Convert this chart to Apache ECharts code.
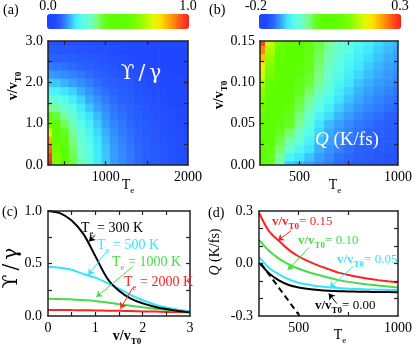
<!DOCTYPE html>
<html lang="en">
<head>
<meta charset="UTF-8">
<title>Stopping ratio and heating rate maps</title>
<script src="https://cdn.jsdelivr.net/npm/echarts@6/dist/echarts.min.js"></script>
<style>html,body{margin:0;padding:0;background:#fff;}#main{width:415px;height:344px;}</style>
</head>
<body>
<div id="main"></div>
<script>
// ---------- values ----------
// (a) map of Upsilon/gamma: one row per Te, values along v/vT0
var mapA_Te = [300, 400, 500, 600, 700, 800, 900, 1000, 1100, 1200, 1300, 1400, 1500, 1600, 1700, 1800, 1900, 2000];
var mapA_v = [0, 0.2, 0.4, 0.6, 0.8, 1.0, 1.2, 1.4, 1.6, 1.8, 2.0, 2.2, 2.4, 2.6, 2.8, 3.0];
var mapA_val = [
  [1.00, 0.97, 0.92, 0.85, 0.74, 0.60, 0.44, 0.35, 0.285, 0.23, 0.18, 0.145, 0.12, 0.097, 0.08, 0.067],
  [0.63, 0.625, 0.60, 0.56, 0.50, 0.45, 0.39, 0.33, 0.275, 0.22, 0.178, 0.143, 0.118, 0.096, 0.08, 0.067],
  [0.48, 0.475, 0.46, 0.44, 0.41, 0.375, 0.33, 0.29, 0.245, 0.20, 0.163, 0.135, 0.112, 0.093, 0.078, 0.066],
  [0.385, 0.38, 0.37, 0.355, 0.335, 0.31, 0.28, 0.25, 0.215, 0.185, 0.15, 0.127, 0.106, 0.09, 0.076, 0.064],
  [0.31, 0.308, 0.302, 0.29, 0.27, 0.25, 0.228, 0.207, 0.185, 0.16, 0.138, 0.118, 0.10, 0.086, 0.072, 0.062],
  [0.26, 0.258, 0.253, 0.244, 0.232, 0.215, 0.197, 0.177, 0.157, 0.14, 0.123, 0.107, 0.093, 0.081, 0.069, 0.06],
  [0.21, 0.208, 0.204, 0.199, 0.19, 0.18, 0.168, 0.152, 0.137, 0.123, 0.11, 0.098, 0.087, 0.077, 0.067, 0.059],
  [0.18, 0.178, 0.174, 0.168, 0.16, 0.151, 0.142, 0.132, 0.121, 0.11, 0.10, 0.09, 0.078, 0.07, 0.063, 0.056],
  [0.15, 0.149, 0.146, 0.142, 0.136, 0.13, 0.122, 0.115, 0.108, 0.101, 0.092, 0.083, 0.073, 0.066, 0.058, 0.051],
  [0.135, 0.134, 0.131, 0.127, 0.122, 0.117, 0.111, 0.105, 0.10, 0.092, 0.083, 0.075, 0.068, 0.061, 0.054, 0.049],
  [0.12, 0.119, 0.117, 0.114, 0.11, 0.105, 0.101, 0.096, 0.091, 0.085, 0.077, 0.068, 0.061, 0.055, 0.05, 0.046],
  [0.107, 0.106, 0.105, 0.102, 0.099, 0.095, 0.09, 0.085, 0.08, 0.074, 0.068, 0.063, 0.057, 0.051, 0.047, 0.043],
  [0.095, 0.094, 0.093, 0.091, 0.088, 0.085, 0.081, 0.076, 0.071, 0.067, 0.062, 0.057, 0.052, 0.048, 0.044, 0.041],
  [0.085, 0.084, 0.083, 0.081, 0.078, 0.075, 0.072, 0.068, 0.064, 0.06, 0.056, 0.052, 0.048, 0.045, 0.042, 0.039],
  [0.077, 0.076, 0.075, 0.073, 0.07, 0.068, 0.065, 0.062, 0.059, 0.055, 0.051, 0.048, 0.045, 0.042, 0.04, 0.037],
  [0.068, 0.067, 0.066, 0.065, 0.063, 0.061, 0.059, 0.056, 0.053, 0.05, 0.047, 0.045, 0.042, 0.04, 0.038, 0.036],
  [0.062, 0.061, 0.06, 0.059, 0.058, 0.056, 0.054, 0.052, 0.05, 0.047, 0.045, 0.043, 0.041, 0.039, 0.037, 0.035],
  [0.057, 0.057, 0.056, 0.055, 0.054, 0.053, 0.051, 0.049, 0.047, 0.045, 0.043, 0.041, 0.039, 0.037, 0.036, 0.034]
];

// (b) map of Q (K/fs): one row per Te, values along v/vT0
var mapB_Te = [300, 350, 400, 450, 500, 550, 600, 650, 700, 750, 800, 850, 900, 950, 1000];
var mapB_v = [0, 0.01, 0.02, 0.03, 0.04, 0.05, 0.06, 0.07, 0.08, 0.09, 0.10, 0.11, 0.12, 0.13, 0.14, 0.15];
var mapB_val = [
  [0.02, 0.028, 0.036, 0.044, 0.052, 0.06, 0.074, 0.09, 0.106, 0.123, 0.14, 0.163, 0.189, 0.217, 0.248, 0.28],
  [0.005, 0.012, 0.019, 0.026, 0.033, 0.04, 0.05, 0.06, 0.07, 0.08, 0.09, 0.104, 0.118, 0.132, 0.146, 0.16],
  [-0.045, -0.033, -0.021, -0.009, 0.003, 0.015, 0.022, 0.029, 0.036, 0.043, 0.05, 0.06, 0.07, 0.08, 0.09, 0.10],
  [-0.11, -0.085, -0.06, -0.038, -0.018, 0.0, 0.007, 0.014, 0.021, 0.028, 0.035, 0.04, 0.045, 0.05, 0.055, 0.06],
  [-0.118, -0.10, -0.083, -0.065, -0.048, -0.03, -0.022, -0.013, -0.005, 0.004, 0.012, 0.017, 0.021, 0.026, 0.03, 0.035],
  [-0.125, -0.113, -0.101, -0.089, -0.077, -0.065, -0.053, -0.041, -0.029, -0.017, -0.005, -0.001, 0.003, 0.007, 0.011, 0.015],
  [-0.132, -0.126, -0.119, -0.113, -0.106, -0.10, -0.086, -0.072, -0.058, -0.044, -0.03, -0.025, -0.02, -0.015, -0.01, -0.005],
  [-0.139, -0.134, -0.129, -0.125, -0.12, -0.115, -0.104, -0.092, -0.081, -0.069, -0.058, -0.052, -0.046, -0.04, -0.034, -0.028],
  [-0.147, -0.143, -0.138, -0.134, -0.129, -0.125, -0.117, -0.109, -0.101, -0.093, -0.085, -0.078, -0.071, -0.064, -0.057, -0.05],
  [-0.152, -0.148, -0.144, -0.141, -0.137, -0.133, -0.126, -0.12, -0.113, -0.107, -0.10, -0.094, -0.087, -0.081, -0.074, -0.068],
  [-0.156, -0.153, -0.15, -0.146, -0.143, -0.14, -0.134, -0.129, -0.123, -0.118, -0.112, -0.106, -0.10, -0.094, -0.088, -0.082],
  [-0.159, -0.156, -0.153, -0.151, -0.148, -0.145, -0.14, -0.135, -0.13, -0.125, -0.12, -0.115, -0.11, -0.104, -0.099, -0.094],
  [-0.162, -0.159, -0.157, -0.154, -0.152, -0.149, -0.145, -0.14, -0.136, -0.131, -0.127, -0.122, -0.118, -0.113, -0.109, -0.104],
  [-0.165, -0.163, -0.161, -0.158, -0.156, -0.154, -0.15, -0.145, -0.141, -0.136, -0.132, -0.128, -0.124, -0.12, -0.116, -0.112],
  [-0.167, -0.165, -0.163, -0.161, -0.159, -0.157, -0.153, -0.149, -0.145, -0.141, -0.137, -0.133, -0.129, -0.126, -0.122, -0.118]
];

// (c) Upsilon/gamma against v/vT0 at four electron temperatures
var cutC_v = [0, 0.25, 0.5, 0.75, 1.0, 1.25, 1.5, 1.75, 2.0, 2.25, 2.5, 2.75, 3.0];
var cutC_300 = [1.0, 0.98, 0.91, 0.78, 0.57, 0.36, 0.24, 0.165, 0.12, 0.089, 0.066, 0.048, 0.035];
var cutC_500 = [0.47, 0.46, 0.44, 0.40, 0.365, 0.315, 0.26, 0.20, 0.15, 0.11, 0.08, 0.06, 0.045];
var cutC_1000 = [0.165, 0.163, 0.158, 0.152, 0.143, 0.128, 0.113, 0.098, 0.083, 0.07, 0.058, 0.048, 0.04];
var cutC_2000 = [0.057, 0.057, 0.056, 0.055, 0.053, 0.051, 0.049, 0.047, 0.044, 0.042, 0.039, 0.037, 0.035];

// (d) Q against Te at four velocities, plus the dashed tangent
var cutD_Te = [300, 350, 400, 450, 500, 550, 600, 650, 700, 750, 800, 850, 900, 950, 1000];
var cutD_000 = [0.005, -0.055, -0.097, -0.123, -0.137, -0.146, -0.152, -0.156, -0.158, -0.16, -0.161, -0.162, -0.163, -0.163, -0.164];
var cutD_005 = [0.038, -0.024, -0.062, -0.09, -0.11, -0.122, -0.13, -0.136, -0.14, -0.144, -0.146, -0.148, -0.15, -0.151, -0.152];
var cutD_010 = [0.135, 0.073, 0.028, -0.005, -0.03, -0.05, -0.066, -0.08, -0.095, -0.105, -0.113, -0.12, -0.126, -0.132, -0.137];
var cutD_015 = [0.29, 0.185, 0.13, 0.078, 0.04, 0.012, -0.012, -0.032, -0.052, -0.066, -0.077, -0.087, -0.095, -0.102, -0.108];
var tangentTe = [310, 505];
var tangentQ = [0.0, -0.3];

// ---------- styling ----------
var SERIF = "'Liberation Serif', 'DejaVu Serif', serif";
var CMAP = ['#1e44ff', '#2048ff', '#2a62ff', '#36a0ff', '#40e8ff', '#58ffe8', '#6cffcc', '#7cff84',
            '#66ff22', '#5cff00', '#5cff00', '#60ff00', '#6cff00', '#88ff00', '#b4ff00', '#e2fa00',
            '#ffe000', '#ffb000', '#ff8010', '#ff4a1c', '#ff1e1e'];
var CYAN = '#33e6ff', GREEN = '#44dd44', RED = '#ff2222', BLACK = '#000';

function toGrid(tes, vs, vals) {
  var out = [];
  for (var i = 0; i < tes.length; i++) {
    for (var j = 0; j < vs.length; j++) out.push([tes[i], vs[j], vals[i][j]]);
  }
  return out;
}
function zip(xs, ys) {
  return xs.map(function (x, i) { return [x, ys[i]]; });
}

// draws one map cell centred on its (Te, v) node, clipped to the plot box
function cellItem(dx, dy) {
  return function (params, api) {
    var te = api.value(0), v = api.value(1);
    var p0 = api.coord([te - dx / 2, v + dy / 2]);
    var p1 = api.coord([te + dx / 2, v - dy / 2]);
    var cs = params.coordSys;
    var r = echarts.graphic.clipRectByRect(
      {x: p0[0], y: p0[1], width: p1[0] - p0[0] + 0.6, height: p1[1] - p0[1] + 0.6},
      {x: cs.x, y: cs.y, width: cs.width, height: cs.height});
    if (!r) return;
    return {type: 'rect', shape: r, style: {fill: api.visual('color')}};
  };
}

// bottom/left axis with labels, plus top/right mirror carrying only ticks
function axes(kind, grid, min, max, ticks, labels, fmt, margin) {
  var line = {show: true, onZero: false, lineStyle: {color: '#222', width: 1.5}};
  var tick = {show: true, inside: true, length: 4, customValues: ticks, lineStyle: {color: '#222', width: 1.2}};
  var base = {type: 'value', gridIndex: grid, min: min, max: max, z: 5,
              splitLine: {show: false}, axisLine: line, axisTick: tick};
  var main = Object.assign({}, base, {
    position: kind === 'x' ? 'bottom' : 'left',
    axisLabel: {customValues: labels, formatter: fmt, margin: margin, color: '#000',
                fontFamily: SERIF, fontSize: 14}
  });
  var mirror = Object.assign({}, base, {
    position: kind === 'x' ? 'top' : 'right',
    axisLabel: {show: false}
  });
  return [main, mirror];
}

function rich(size, color) {
  var sub = Math.round(size * 0.66);
  return {
    m: {fontSize: size, fontFamily: SERIF, fill: color, lineHeight: size + 6},
    mb: {fontSize: size, fontFamily: SERIF, fontWeight: 'bold', fill: color, lineHeight: size + 6},
    mi: {fontSize: size, fontFamily: SERIF, fontStyle: 'italic', fill: color, lineHeight: size + 6},
    s: {fontSize: sub, fontFamily: SERIF, fill: color, verticalAlign: 'bottom'},
    sb: {fontSize: sub, fontFamily: SERIF, fontWeight: 'bold', fill: color, verticalAlign: 'bottom'}
  };
}
function txt(x, y, text, color, size, opt) {
  opt = opt || {};
  return {
    type: 'text', x: x, y: y, rotation: opt.rot || 0, silent: true, z: 10,
    style: {text: text, fill: color, fontFamily: opt.font || SERIF, fontSize: size,
            align: opt.align || 'left', verticalAlign: 'middle', rich: rich(size, color)}
  };
}
function arrow(from, to) {
  return [{coord: from}, {coord: to}];
}
function mark(pair, color) {
  return {silent: true, symbol: ['none', 'arrow'], symbolSize: 6, label: {show: false},
          lineStyle: {color: color, width: 1, type: 'solid'}, data: [pair]};
}
function line(gi, data, color, extra) {
  return Object.assign({type: 'line', xAxisIndex: gi * 2, yAxisIndex: gi * 2, data: data,
    smooth: 0.3, showSymbol: false, symbol: 'none', clip: true,
    lineStyle: {color: color, width: 2}, itemStyle: {color: color}, z: 3}, extra || {});
}

var f1 = function (v) { return v.toFixed(1); };
var f2 = function (v) { return v.toFixed(2); };
var f0 = function (v) { return String(v); };

var xA = axes('x', 0, 300, 2000, [500, 1000, 1500], [1000, 2000], f0, 5);
var yA = axes('y', 0, 0, 3, [0.5, 1, 1.5, 2, 2.5], [0, 1, 2, 3], f1, 5);
var xB = axes('x', 1, 300, 1000, [500, 750], [500, 1000], f0, 5);
var yB = axes('y', 1, 0, 0.15, [0.025, 0.05, 0.075, 0.1, 0.125], [0, 0.05, 0.1, 0.15], f2, 5);
var xC = axes('x', 2, 0, 3, [0.5, 1, 1.5, 2, 2.5], [0, 1, 2, 3], f0, 5);
var yC = axes('y', 2, 0, 1, [0.25, 0.5, 0.75], [0, 0.5, 1], f1, 6);
var xD = axes('x', 3, 300, 1000, [500, 750], [500, 1000], f0, 5);
var yD = axes('y', 3, -0.3, 0.3, [-0.2, -0.1, 0, 0.1, 0.2], [-0.3, 0, 0.3], f1, 6);

var UPS = '\u03D2\u2009/\u2009\u03B3';
var chart = echarts.init(document.getElementById('main'), null, {renderer: 'canvas'});
chart.setOption({
  animation: false,
  backgroundColor: '#fff',
  grid: [
    {left: 48, top: 41, width: 140, height: 124},
    {left: 260, top: 41, width: 141, height: 124},
    {left: 48, top: 211, width: 142, height: 105},
    {left: 259, top: 211, width: 142, height: 105}
  ],
  xAxis: xA.concat(xB, xC, xD),
  yAxis: yA.concat(yB, yC, yD),
  visualMap: [
    {type: 'continuous', seriesIndex: 0, dimension: 2, min: 0, max: 1, calculable: false,
     orient: 'horizontal', left: 47, top: 14, itemWidth: 15, itemHeight: 142, padding: 0,
     inRange: {color: CMAP}, hoverLink: false},
    {type: 'continuous', seriesIndex: 1, dimension: 2, min: -0.2, max: 0.3, calculable: false,
     orient: 'horizontal', left: 259, top: 14, itemWidth: 15, itemHeight: 142, padding: 0,
     inRange: {color: CMAP}, hoverLink: false}
  ],
  series: [
    {type: 'custom', xAxisIndex: 0, yAxisIndex: 0, z: 1, encode: {x: 0, y: 1},
     renderItem: cellItem(100, 0.2), data: toGrid(mapA_Te, mapA_v, mapA_val)},
    {type: 'custom', xAxisIndex: 2, yAxisIndex: 2, z: 1, encode: {x: 0, y: 1},
     renderItem: cellItem(50, 0.01), data: toGrid(mapB_Te, mapB_v, mapB_val)},

    line(2, zip(cutC_v, cutC_2000), RED, {markLine: mark(arrow([1.79, 0.27], [1.53, 0.07]), RED)}),
    line(2, zip(cutC_v, cutC_1000), GREEN, {markLine: mark(arrow([1.79, 0.47], [1.02, 0.18]), GREEN)}),
    line(2, zip(cutC_v, cutC_500), CYAN, {markLine: mark(arrow([1.23, 0.61], [0.85, 0.39]), CYAN)}),
    line(2, zip(cutC_v, cutC_300), BLACK, {markLine: mark(arrow([1.0, 0.77], [0.865, 0.71]), BLACK)}),

    line(3, zip(cutD_Te, cutD_015), RED, {markLine: mark(arrow([462, 0.188], [395, 0.131]), RED)}),
    line(3, zip(cutD_Te, cutD_010), GREEN, {markLine: mark(arrow([552, 0.092], [445, -0.037]), GREEN)}),
    line(3, zip(cutD_Te, cutD_005), CYAN, {markLine: mark(arrow([774, -0.017], [656, -0.139]), CYAN)}),
    line(3, zip(cutD_Te, cutD_000), BLACK, {markLine: mark(arrow([692, -0.229], [651, -0.172]), BLACK)}),
    line(3, zip(tangentTe, tangentQ), BLACK, {smooth: false, lineStyle: {color: BLACK, width: 2, type: [6, 4]}})
  ],
  graphic: [
    // panel letters and colour-bar ends
    txt(3, 10, '(a)', '#000', 14),
    txt(209, 10, '(b)', '#000', 14),
    txt(2, 212, '(c)', '#000', 14),
    txt(208, 213, '(d)', '#000', 14),
    txt(48, 6, '0.0', '#000', 14, {align: 'center'}),
    txt(188, 6, '1.0', '#000', 14, {align: 'center'}),
    txt(256, 6, '-0.2', '#000', 14, {align: 'center'}),
    txt(400, 6, '0.3', '#000', 14, {align: 'center'}),
    // labels inside the maps
    txt(141, 74, UPS, '#fff', 20, {align: 'center', font: "'DejaVu Serif', serif"}),
    txt(315, 140, '{mi|Q}{m| (K/fs)}', '#fff', 19),
    // axis names
    txt(13, 86, '{mb|v/v}{sb|T0}', '#000', 14, {align: 'center', rot: Math.PI / 2}),
    txt(219, 95, '{mb|v/v}{sb|T0}', '#000', 14, {align: 'center', rot: Math.PI / 2}),
    txt(128, 185, '{m|T}{s|e}', '#000', 14, {align: 'center'}),
    txt(335, 185, '{m|T}{s|e}', '#000', 14, {align: 'center'}),
    txt(12, 268, UPS, '#000', 20, {align: 'center', rot: Math.PI / 2, font: "'DejaVu Serif', serif"}),
    txt(215, 252, '{mi|Q}{m| (K/fs)}', '#000', 14, {align: 'center', rot: Math.PI / 2}),
    txt(127, 336, '{mb|v/v}{sb|T0}', '#000', 14, {align: 'center'}),
    txt(340, 335, '{m|T}{s|e}', '#000', 14, {align: 'center'}),
    // curve labels (c)
    txt(81, 228, '{m|T}{s|e}{m| = 300 K}', BLACK, 14),
    txt(97, 245, '{m|T}{s|e}{m| = 500 K}', CYAN, 14),
    txt(112, 262, '{m|T}{s|e}{m| = 1000 K}', GREEN, 14),
    txt(124, 282, '{m|T}{s|e}{m| = 2000 K}', RED, 14),
    // curve labels (d)
    txt(272, 222, '{mb|v/v}{sb|T0}{m|= 0.15}', RED, 13),
    txt(298, 241, '{mb|v/v}{sb|T0}{m|= 0.10}', GREEN, 13),
    txt(337, 260, '{mb|v/v}{sb|T0}{m|= 0.05}', CYAN, 13),
    txt(315, 306, '{mb|v/v}{sb|T0}{m|= 0.00}', BLACK, 13)
  ]
});
</script>
</body>
</html>
